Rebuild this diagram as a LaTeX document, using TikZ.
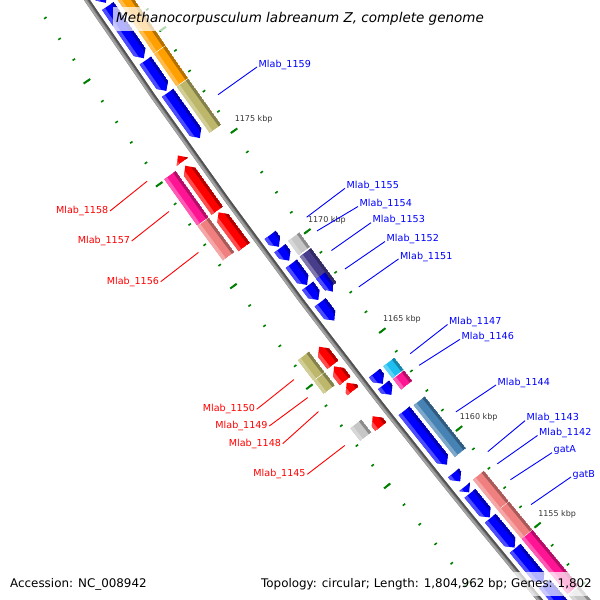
\documentclass[tikz,border=0pt]{standalone}
\usepackage{fontspec}
\setmainfont{DejaVu Sans}

\definecolor{cgblue}{HTML}{0000FF}
\definecolor{cgred}{HTML}{FF0000}
\definecolor{cgorange}{HTML}{FFA000}
\definecolor{cgkhaki}{HTML}{BDB76B}
\definecolor{cggray}{HTML}{C6C6C6}
\definecolor{cgslate}{HTML}{483D8B}
\definecolor{cgcyan}{HTML}{1EBFF0}
\definecolor{cgpink}{HTML}{FF1493}
\definecolor{cgsteel}{HTML}{4682B4}
\definecolor{cgsalmon}{HTML}{F08080}
\definecolor{rulergreen}{HTML}{008000}

% angle of a map position (kbp) on the genome circle
\pgfmathdeclarefunction{ga}{1}{\pgfmathparse{142.923+0.19982*(#1-1167.5)}}

% feature: colour, kbp at base, kbp at tip, outer offset, inner offset, head length
\newcommand{\gfeat}[6]{%
  \pgfmathsetmacro\gkh{#3+min(#6,abs(#2-#3))*(#2-#3)/abs(#2-#3)}%
  \pgfmathsetmacro\gtm{(#4+#5)/2}%
  \begin{scope}
    \clip ({ga(#2)}:{7180-(#4)}) -- ({ga(\gkh)}:{7180-(#4)}) -- ({ga(#3)}:{7180-(\gtm)})
      -- ({ga(\gkh)}:{7180-(#5)}) -- ({ga(#2)}:{7180-(#5)}) -- cycle;
    \fill[#1] ({ga(#2)}:{7180-(#4)}) -- ({ga(#3)}:{7180-(#4)})
      -- ({ga(#3)}:{7180-(#5)}) -- ({ga(#2)}:{7180-(#5)}) -- cycle;
    \fill[#1!70!white] ({ga(#2)}:{7180-(#4)}) -- ({ga(#3)}:{7180-(#4)})
      -- ({ga(#3)}:{7176.5-(#4)}) -- ({ga(#2)}:{7176.5-(#4)}) -- cycle;
    \fill[#1!70!black] ({ga(#2)}:{7183-(#5)}) -- ({ga(#3)}:{7183-(#5)})
      -- ({ga(#3)}:{7180-(#5)}) -- ({ga(#2)}:{7180-(#5)}) -- cycle;
  \end{scope}}

\begin{document}
\begin{tikzpicture}[x=1pt,y=-1pt,
  dot/.style={rulergreen,line width=1.6pt},
  major/.style={rulergreen,line width=2pt},
  kbp/.style={font=\fontsize{8}{9}\selectfont,text=black!80,inner sep=0pt},
  lab/.style={font=\fontsize{9.6}{11}\selectfont,inner sep=1.5pt},
  rlab/.style={lab,text=cgblue,anchor=base west},
  llab/.style={lab,text=cgred,anchor=east},
  rline/.style={cgblue,line width=0.9pt},
  lline/.style={cgred,line width=0.9pt},
  infobox/.style={fill=white,fill opacity=0.7,text opacity=1,inner xsep=2pt,inner ysep=6pt,
    font=\fontsize{11.9}{14}\selectfont}]
\useasboundingbox (0,0) rectangle (600,600);
\clip (0,0) rectangle (600,600);

\begin{scope}[shift={(6036,-4019.6)}]
% Backbone
\draw[line width=5pt,black!50] plot[domain=1140:1190,samples=51] ({ga(\x)}:7180);
\draw[line width=1.8pt,black!36] plot[domain=1140:1190,samples=51] ({ga(\x)}:7181.3);
\draw[line width=1.8pt,black!68] plot[domain=1140:1190,samples=51] ({ga(\x)}:7178.3);

% Ruler ticks
\foreach \k in {1146,...,1188} {
  \draw[dot] ({ga(\k)}:{7180-43}) -- ({ga(\k)}:{7180-46});
  \draw[dot] ({ga(\k)}:{7180+43}) -- ({ga(\k)}:{7180+46});
}
\foreach \k in {1150,1155,...,1185} {
  \draw[major] ({ga(\k)}:{7180-42}) -- ({ga(\k)}:{7180-50});
  \draw[major] ({ga(\k)}:{7180+42}) -- ({ga(\k)}:{7180+50});
}
\foreach \k in {1155,1160,...,1175}
  \path ({ga(\k)}:{7180-46}) ++(0.5,-9) node[kbp,anchor=base west] (kbp\k) {\k\ kbp};

% Reverse strand genes
\gfeat{cgblue}{1186}{1182.15}{7}{21}{0.3}
\gfeat{cgblue}{1182.0}{1179.46}{7}{21}{0.3}
\gfeat{cgblue}{1179.35}{1177.87}{7}{21}{0.3}
\gfeat{cgblue}{1177.78}{1175.56}{7}{21}{0.3}
\gfeat{cgblue}{1170.77}{1170.18}{7}{21}{0.3}
\gfeat{cgblue}{1170.11}{1169.49}{7}{21}{0.3}
\gfeat{cgblue}{1169.34}{1168.28}{7}{21}{0.3}
\gfeat{cgblue}{1168.24}{1167.53}{7}{21}{0.3}
\gfeat{cgblue}{1167.41}{1166.49}{7}{21}{0.3}
\gfeat{cgblue}{1163.84}{1163.30}{7}{21}{0.3}
\gfeat{cgblue}{1163.25}{1162.74}{7}{21}{0.3}
\gfeat{cgblue}{1161.92}{1159.17}{7}{21}{0.3}
\gfeat{cgblue}{1158.75}{1158.31}{7}{21}{0.3}
\gfeat{cgblue}{1158.04}{1157.75}{7}{21}{0.3}
\gfeat{cgblue}{1157.70}{1156.45}{7}{21}{0.3}
\gfeat{cgblue}{1156.41}{1154.89}{7}{21}{0.3}
\gfeat{cgblue}{1154.85}{1153.07}{7}{21}{0.3}
\gfeat{cgblue}{1153.00}{1148}{7}{21}{0.3}

% Reverse strand categories
\gfeat{cgorange}{1186}{1179.40}{25}{39}{0}
\gfeat{cgorange}{1179.37}{1177.80}{25}{39}{0}
\gfeat{cgkhaki}{1177.77}{1175.50}{25}{39}{0}
\gfeat{cggray}{1170.15}{1169.44}{25}{39}{0}
\gfeat{cgslate}{1169.37}{1167.65}{25}{39}{0}
\gfeat{cgblue}{1168.25}{1167.44}{25}{36}{0.3}
\gfeat{cgcyan}{1163.84}{1163.24}{25}{39}{0}
\gfeat{cgpink}{1163.20}{1162.67}{25}{39}{0}
\gfeat{cgsteel}{1161.86}{1159.21}{25}{39}{0}
\gfeat{cgsalmon}{1158.05}{1156.48}{25}{39}{0}
\gfeat{cgsalmon}{1156.45}{1155.00}{25}{39}{0}
\gfeat{cgpink}{1154.97}{1152.10}{25}{39}{0}
\gfeat{cggray}{1152.05}{1148}{25}{39}{0}

% Forward strand genes
\gfeat{cgred}{1175.20}{1175.50}{-21}{-7}{0.3}
\gfeat{cgred}{1172.80}{1175.00}{-21}{-7}{0.3}
\gfeat{cgred}{1171.00}{1172.72}{-21}{-7}{0.3}
\gfeat{cgred}{1165.12}{1166.03}{-21}{-7}{0.3}
\gfeat{cgred}{1164.32}{1165.04}{-21}{-7}{0.3}
\gfeat{cgred}{1163.81}{1164.22}{-21}{-7}{0.3}
\gfeat{cgred}{1162.00}{1162.53}{-21}{-7}{0.3}

% Forward strand categories
\gfeat{cgpink}{1175.05}{1172.80}{-39}{-25}{0}
\gfeat{cgsalmon}{1172.77}{1171.07}{-39}{-25}{0}
\gfeat{cgkhaki}{1166.11}{1165.10}{-39}{-25}{0}
\gfeat{cgkhaki}{1165.07}{1164.43}{-39}{-25}{0}
\gfeat{cggray}{1162.70}{1162.06}{-39}{-25}{0}

% Label anchors on the map
\coordinate (p1159) at ({ga(1176.56)}:{7180-54});
\coordinate (p1155) at ({ga(1170.47)}:{7180-54});
\coordinate (p1154) at ({ga(1169.78)}:{7180-54});
\coordinate (p1153) at ({ga(1168.80)}:{7180-54});
\coordinate (p1152) at ({ga(1167.88)}:{7180-54});
\coordinate (p1151) at ({ga(1166.97)}:{7180-54});
\coordinate (p1147) at ({ga(1163.58)}:{7180-54});
\coordinate (p1146) at ({ga(1162.99)}:{7180-54});
\coordinate (p1144) at ({ga(1160.60)}:{7180-54});
\coordinate (p1143) at ({ga(1158.55)}:{7180-54});
\coordinate (p1142) at ({ga(1157.93)}:{7180-54});
\coordinate (pgatA) at ({ga(1157.10)}:{7180-54});
\coordinate (pgatB) at ({ga(1155.80)}:{7180-54});
\coordinate (p1158) at ({ga(1175.38)}:{7180+54});
\coordinate (p1157) at ({ga(1173.90)}:{7180+54});
\coordinate (p1156) at ({ga(1171.90)}:{7180+54});
\coordinate (p1150) at ({ga(1165.60)}:{7180+54});
\coordinate (p1149) at ({ga(1164.70)}:{7180+54});
\coordinate (p1148) at ({ga(1164.00)}:{7180+54});
\coordinate (p1145) at ({ga(1162.30)}:{7180+54});
\end{scope}

% Labels, reverse strand
\node[rlab] (l1159) at (257,67) {Mlab\_1159};
\node[rlab] (l1155) at (345,188.3) {Mlab\_1155};
\node[rlab] (l1154) at (358,206.5) {Mlab\_1154};
\node[rlab] (l1153) at (371,222.7) {Mlab\_1153};
\node[rlab] (l1152) at (385,241.5) {Mlab\_1152};
\node[rlab] (l1151) at (398.5,259) {Mlab\_1151};
\node[rlab] (l1147) at (447.5,324.5) {Mlab\_1147};
\node[rlab] (l1146) at (460,339.3) {Mlab\_1146};
\node[rlab] (l1144) at (496,385) {Mlab\_1144};
\node[rlab] (l1143) at (525,420.7) {Mlab\_1143};
\node[rlab] (l1142) at (537.5,435.5) {Mlab\_1142};
\node[rlab] (lgatA) at (552,452.7) {gatA};
\node[rlab] (lgatB) at (571,477) {gatB};
\foreach \n in {1159,1155,1154,1153,1152,1151,1147,1146,1144,1143,1142,gatA,gatB}
  \draw[rline] (p\n) -- (l\n.base west);

% Labels, forward strand
\node[llab] (l1158) at (110,211) {Mlab\_1158};
\node[llab] (l1157) at (131.7,241) {Mlab\_1157};
\node[llab] (l1156) at (160.7,281.7) {Mlab\_1156};
\node[llab] (l1150) at (256.7,409.3) {Mlab\_1150};
\node[llab] (l1149) at (269.3,426) {Mlab\_1149};
\node[llab] (l1148) at (282.7,443.7) {Mlab\_1148};
\node[llab] (l1145) at (307.3,474.3) {Mlab\_1145};
\foreach \n in {1158,1157,1156,1150,1149,1148,1145}
  \draw[lline] (p\n) -- (l\n.east);

% Title and info
\node[infobox,anchor=base west,inner xsep=3pt,inner ysep=5pt,font=\fontsize{13.5}{16}\selectfont\itshape]
  (title) at (113,22.7) {Methanocorpusculum labreanum Z, complete genome};
\node[infobox,anchor=base west] (acc) at (8,587.3) {Accession: NC\_008942};
\node[infobox,anchor=base east] (topo) at (594,587.3) {Topology: circular; Length: 1,804,962 bp; Genes: 1,802};
\end{tikzpicture}
\end{document}
